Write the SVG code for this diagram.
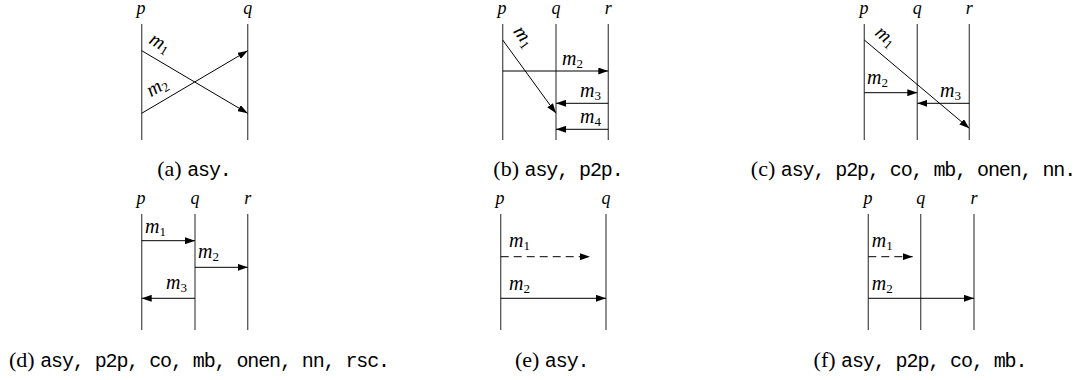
<svg xmlns="http://www.w3.org/2000/svg" width="1082" height="380" viewBox="0 0 1082 380">
<defs>
<marker id="ah" viewBox="0 0 10 7" refX="10" refY="3.5" markerWidth="10" markerHeight="7" markerUnits="userSpaceOnUse" orient="auto"><path d="M0,0 L10,3.5 L0,7 z" fill="#000"/></marker>
</defs>
<style>
.life{stroke:#555;stroke-width:1.3;fill:none}
.msg{stroke:#000;stroke-width:1;fill:none;marker-end:url(#ah)}
.dash{stroke-dasharray:8 5}
.proc{font-family:"Liberation Serif",serif;font-style:italic;font-size:18px;text-anchor:middle;fill:#000}
.m{font-family:"Liberation Serif",serif;font-style:italic;font-size:20px;fill:#000}
.sub{font-size:13px;font-style:normal}
.cap{font-family:"Liberation Serif",serif;font-size:22px;text-anchor:middle;fill:#000}
.tt{font-family:"Liberation Mono",monospace;font-size:20px;letter-spacing:-1.1px}
</style>
<rect width="1082" height="380" fill="#fff"/>

<!-- (a) -->
<g id="panel-a">
<text class="proc" x="141" y="14">p</text>
<text class="proc" x="247.7" y="14">q</text>
<line class="life" x1="141.7" y1="24" x2="141.7" y2="140"/>
<line class="life" x1="247.7" y1="24" x2="247.7" y2="140"/>
<text class="m" text-anchor="middle" transform="translate(157,48) rotate(30.6)">m<tspan class="sub" dy="3">1</tspan></text>
<text class="m" text-anchor="middle" transform="translate(160,92) rotate(-30.6)">m<tspan class="sub" dy="3">2</tspan></text>
<text class="cap" x="194" y="176">(a) <tspan class="tt">asy.</tspan></text>
</g>

<!-- (b) -->
<g id="panel-b">
<text class="proc" x="502" y="14">p</text>
<text class="proc" x="556" y="14">q</text>
<text class="proc" x="608.3" y="14">r</text>
<line class="life" x1="502.7" y1="24" x2="502.7" y2="140"/>
<line class="life" x1="556" y1="24" x2="556" y2="140"/>
<line class="life" x1="608.3" y1="24" x2="608.3" y2="140"/>
<text class="m" text-anchor="middle" transform="translate(519,40) rotate(54)">m<tspan class="sub" dy="3">1</tspan></text>
<text class="m" x="562" y="65">m<tspan class="sub" dy="3">2</tspan></text>
<text class="m" x="580" y="97">m<tspan class="sub" dy="3">3</tspan></text>
<text class="m" x="580" y="123">m<tspan class="sub" dy="3">4</tspan></text>
<text class="cap" x="558" y="176">(b) <tspan class="tt">asy, p2p.</tspan></text>
</g>

<!-- (c) -->
<g id="panel-c">
<text class="proc" x="864" y="14">p</text>
<text class="proc" x="917.3" y="14">q</text>
<text class="proc" x="969.3" y="14">r</text>
<line class="life" x1="864.3" y1="24" x2="864.3" y2="140"/>
<line class="life" x1="917.3" y1="24" x2="917.3" y2="140"/>
<line class="life" x1="969.3" y1="24" x2="969.3" y2="140"/>
<text class="m" text-anchor="middle" transform="translate(882,41) rotate(40)">m<tspan class="sub" dy="3">1</tspan></text>
<text class="m" x="867" y="84">m<tspan class="sub" dy="3">2</tspan></text>
<text class="m" x="940" y="97">m<tspan class="sub" dy="3">3</tspan></text>
<text class="cap" x="913" y="176">(c) <tspan class="tt">asy, p2p, co, mb, onen, nn.</tspan></text>
</g>

<!-- (d) -->
<g id="panel-d">
<text class="proc" x="141" y="204">p</text>
<text class="proc" x="195" y="204">q</text>
<text class="proc" x="247.7" y="204">r</text>
<line class="life" x1="141.7" y1="214" x2="141.7" y2="330"/>
<line class="life" x1="195" y1="214" x2="195" y2="330"/>
<line class="life" x1="247.7" y1="214" x2="247.7" y2="330"/>
<text class="m" x="145" y="233">m<tspan class="sub" dy="3">1</tspan></text>
<text class="m" x="198" y="258">m<tspan class="sub" dy="3">2</tspan></text>
<text class="m" x="166" y="289">m<tspan class="sub" dy="3">3</tspan></text>
<text class="cap" x="199" y="367">(d) <tspan class="tt">asy, p2p, co, mb, onen, nn, rsc.</tspan></text>
</g>

<!-- (e) -->
<g id="panel-e">
<text class="proc" x="500" y="204">p</text>
<text class="proc" x="606" y="204">q</text>
<line class="life" x1="500.7" y1="214" x2="500.7" y2="330"/>
<line class="life" x1="606" y1="214" x2="606" y2="330"/>
<text class="m" x="509" y="247">m<tspan class="sub" dy="3">1</tspan></text>
<text class="m" x="509" y="290">m<tspan class="sub" dy="3">2</tspan></text>
<text class="cap" x="551.7" y="367">(e) <tspan class="tt">asy.</tspan></text>
</g>

<!-- (f) -->
<g id="panel-f">
<text class="proc" x="868" y="204">p</text>
<text class="proc" x="920.7" y="204">q</text>
<text class="proc" x="974" y="204">r</text>
<line class="life" x1="868.3" y1="214" x2="868.3" y2="330"/>
<line class="life" x1="920.7" y1="214" x2="920.7" y2="330"/>
<line class="life" x1="974" y1="214" x2="974" y2="330"/>
<text class="m" x="871.7" y="247">m<tspan class="sub" dy="3">1</tspan></text>
<text class="m" x="871.7" y="290">m<tspan class="sub" dy="3">2</tspan></text>
<text class="cap" x="920" y="367">(f) <tspan class="tt">asy, p2p, co, mb.</tspan></text>
</g>

<g id="connectors">
<path class="msg" d="M141.7,50.7 L247.7,113.3"/>
<path class="msg" d="M141.7,113.3 L247.7,50.7"/>
<path class="msg" d="M502.7,40 L556,113.3"/>
<path class="msg" d="M502.7,71 L608.3,71"/>
<path class="msg" d="M608.3,103.3 L556,103.3"/>
<path class="msg" d="M608.3,129.3 L556,129.3"/>
<path class="msg" d="M864.3,40 L969.3,128.3"/>
<path class="msg" d="M864.3,92.7 L917.3,92.7"/>
<path class="msg" d="M969.3,103.3 L917.3,103.3"/>
<path class="msg" d="M141.7,240.7 L195,240.7"/>
<path class="msg" d="M195,267.3 L247.7,267.3"/>
<path class="msg" d="M195,298.3 L141.7,298.3"/>
<path class="msg dash" d="M500.7,256.7 L590,256.7"/>
<path class="msg" d="M500.7,298.3 L606,298.3"/>
<path class="msg dash" d="M868.3,256.7 L912.7,256.7"/>
<path class="msg" d="M868.3,298.3 L974,298.3"/>
</g>
</svg>
